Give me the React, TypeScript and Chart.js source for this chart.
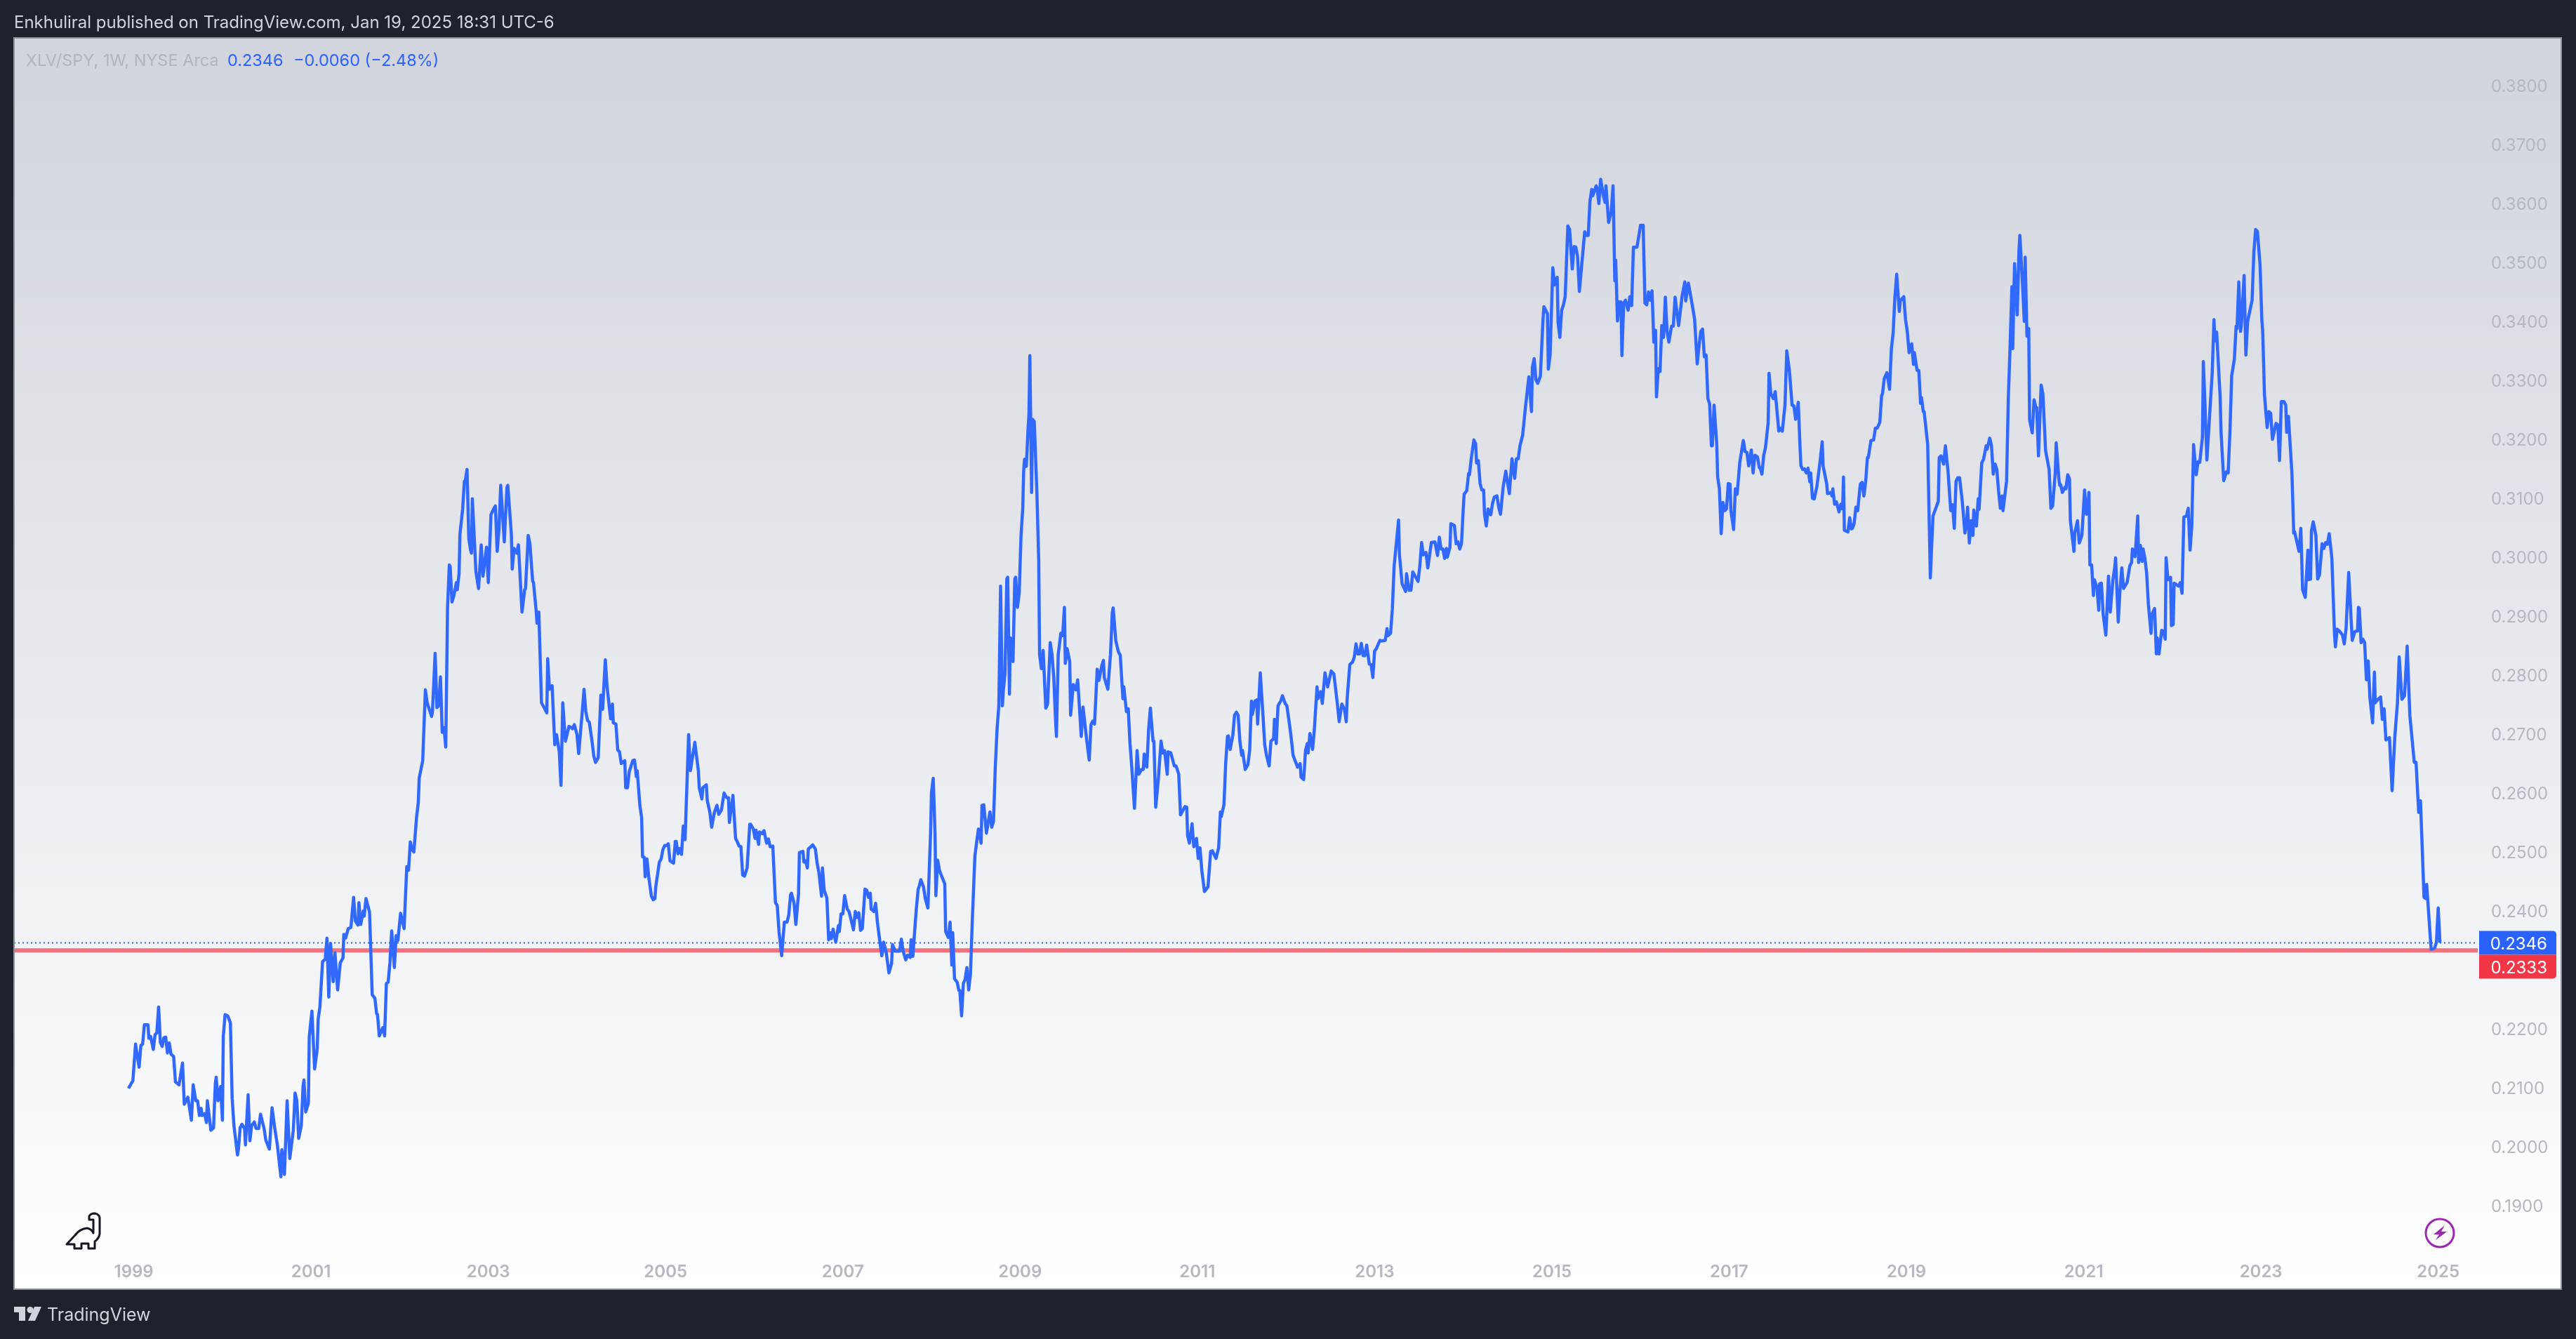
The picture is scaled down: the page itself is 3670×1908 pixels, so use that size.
import React, { useEffect, useRef } from "react";
import Chart from "chart.js/auto";

// XLV/SPY weekly ratio as [year, ratio] turning points.
const era1999to2005: number[][] = [
[1998.94,.2099],[1998.99,.2112],[1999.02,.2174],[1999.06,.2135],[1999.08,.2172],[1999.10,.2174],[1999.12,.2207],[1999.16,.2207],[1999.17,.2184],[1999.19,.2187],[1999.22,.2165],[1999.24,.2190],[1999.26,.2193],[1999.28,.2237],[1999.30,.2177],[1999.32,.2170],[1999.34,.2185],[1999.36,.2186],[1999.38,.2159],[1999.40,.2176],[1999.42,.2157],[1999.45,.2153],[1999.47,.2110],[1999.51,.2105],[1999.55,.2142],[1999.57,.2072],[1999.61,.2084],[1999.65,.2045],[1999.67,.2105],[1999.70,.2078],[1999.72,.2078],[1999.74,.2053],[1999.76,.2065],[1999.77,.2053],[1999.80,.2056],[1999.82,.2041],[1999.83,.2078],[1999.87,.2028],[1999.90,.2032],[1999.92,.2107],[1999.93,.2118],[1999.95,.2078],[1999.98,.2102],[2000.00,.2045],[2000.01,.2187],[2000.03,.2224],[2000.06,.2222],[2000.09,.2210],[2000.11,.2082],[2000.13,.2036],[2000.17,.1986],[2000.18,.1995],[2000.20,.2032],[2000.22,.2038],[2000.25,.2031],[2000.26,.2003],[2000.29,.2088],[2000.31,.2010],[2000.33,.2036],[2000.36,.2042],[2000.38,.2031],[2000.41,.2031],[2000.43,.2055],[2000.47,.2031],[2000.49,.2011],[2000.53,.1996],[2000.56,.2066],[2000.59,.2032],[2000.62,.2003],[2000.66,.1949],[2000.67,.1995],[2000.70,.1953],[2000.73,.2078],[2000.76,.1980],[2000.80,.2028],[2000.82,.2091],[2000.84,.2078],[2000.86,.2014],[2000.89,.2036],[2000.91,.2103],[2000.92,.2113],[2000.94,.2059],[2000.97,.2074],[2000.98,.2187],[2001.01,.2230],[2001.04,.2132],[2001.07,.2166],[2001.08,.2216],[2001.10,.2237],[2001.13,.2314],[2001.16,.2318],[2001.18,.2354],[2001.20,.2254],[2001.22,.2345],[2001.25,.2280],[2001.27,.2329],[2001.30,.2266],[2001.33,.2312],[2001.36,.2320],[2001.37,.2360],[2001.39,.2354],[2001.42,.2370],[2001.45,.2372],[2001.48,.2423],[2001.50,.2383],[2001.53,.2376],[2001.54,.2414],[2001.56,.2377],[2001.59,.2400],[2001.60,.2391],[2001.62,.2421],[2001.66,.2398],[2001.69,.2258],[2001.72,.2252],[2001.74,.2226],[2001.75,.2224],[2001.77,.2188],[2001.81,.2202],[2001.83,.2188],[2001.85,.2277],[2001.87,.2279],[2001.89,.2312],[2001.91,.2366],[2001.94,.2304],[2001.96,.2358],[2001.98,.2350],[2002.01,.2396],[2002.05,.2370],[2002.08,.2475],[2002.10,.2469],[2002.12,.2517],[2002.14,.2504],[2002.16,.2500],[2002.19,.2558],[2002.21,.2584],[2002.22,.2625],[2002.26,.2655],[2002.27,.2696],[2002.29,.2775],[2002.31,.2753],[2002.36,.2730],[2002.37,.2738],[2002.40,.2837],[2002.42,.2745],[2002.44,.2748],[2002.46,.2797],[2002.48,.2703],[2002.50,.2711],[2002.52,.2678],[2002.54,.2914],[2002.56,.2987],[2002.57,.2984],[2002.59,.2924],[2002.61,.2934],[2002.64,.2957],[2002.65,.2945],[2002.67,.2972],[2002.68,.3039],[2002.71,.3081],[2002.73,.3129],[2002.74,.3129],[2002.76,.3149],[2002.78,.3032],[2002.80,.3012],[2002.81,.3007],[2002.82,.3099],[2002.86,.2976],[2002.89,.2947],[2002.92,.3021],[2002.94,.2968],[2002.98,.3017],[2003.00,.2957],[2003.03,.3072],[2003.06,.3082],[2003.08,.3087],[2003.10,.3010],[2003.12,.3047],[2003.14,.3122],[2003.18,.3026],[2003.21,.3118],[2003.22,.3122],[2003.26,.3039],[2003.27,.2980],[2003.29,.3015],[2003.32,.3007],[2003.34,.3021],[2003.38,.2907],[2003.41,.2945],[2003.42,.2947],[2003.45,.3037],[2003.47,.3022],[2003.50,.2960],[2003.51,.2957],[2003.54,.2909],[2003.55,.2888],[2003.57,.2907],[2003.60,.2753],[2003.63,.2745],[2003.66,.2736],[2003.67,.2828],[2003.69,.2776],[2003.72,.2782],[2003.75,.2682],[2003.77,.2699],[2003.80,.2671],[2003.82,.2613],[2003.84,.2753],[2003.87,.2688],[2003.91,.2713],[2003.94,.2711],[2003.95,.2709],[2003.97,.2716],[2004.00,.2700],[2004.02,.2667],[2004.06,.2738],[2004.08,.2776],[2004.10,.2738],[2004.12,.2723],[2004.14,.2720],[2004.17,.2688],[2004.19,.2663],[2004.21,.2652],[2004.24,.2660],[2004.27,.2766],[2004.29,.2742],[2004.32,.2826],[2004.34,.2780],[2004.38,.2726],[2004.40,.2751],[2004.41,.2719],[2004.44,.2717],[2004.46,.2673],[2004.48,.2670],[2004.50,.2650],[2004.54,.2655],[2004.55,.2609],[2004.57,.2609],[2004.59,.2636],[2004.63,.2655],[2004.65,.2656],[2004.67,.2628],[2004.68,.2638],[2004.71,.2579],[2004.73,.2558],[2004.74,.2492],[2004.76,.2491],[2004.77,.2458],[2004.79,.2488],[2004.81,.2458],[2004.84,.2425],[2004.86,.2419],[2004.88,.2421],[2004.89,.2442],[2004.91,.2462],[2004.93,.2483],[2004.95,.2488],[2004.97,.2504],[2004.99,.2511],[2005.01,.2511],[2005.03,.2514],[2005.05,.2485],[2005.09,.2481],[2005.11,.2518],[2005.12,.2518],[2005.14,.2497],[2005.16,.2506],[2005.18,.2496],[2005.20,.2544],[2005.22,.2521],[2005.26,.2699],[2005.28,.2638],[2005.31,.2667],[2005.33,.2686],[2005.37,.2638],[2005.38,.2609],[2005.41,.2590],[2005.42,.2609],[2005.46,.2614],[2005.47,.2588],[2005.50,.2567],[2005.52,.2542],[2005.55,.2567],[2005.58,.2579],[2005.60,.2564],[2005.63,.2571],[2005.66,.2600],[2005.69,.2592],[2005.71,.2592],[2005.72,.2550],[2005.76,.2596],[2005.79,.2523],
];
const era2005to2012: number[][] = [
[2005.81,.2517],[2005.83,.2510],[2005.85,.2509],[2005.87,.2461],[2005.89,.2459],[2005.92,.2473],[2005.95,.2547],[2005.96,.2547],[2005.99,.2539],[2006.01,.2523],[2006.02,.2537],[2006.05,.2513],[2006.06,.2534],[2006.09,.2531],[2006.11,.2536],[2006.14,.2515],[2006.16,.2522],[2006.18,.2509],[2006.21,.2510],[2006.24,.2414],[2006.26,.2409],[2006.28,.2365],[2006.31,.2324],[2006.34,.2381],[2006.37,.2381],[2006.39,.2393],[2006.41,.2427],[2006.42,.2430],[2006.45,.2413],[2006.47,.2377],[2006.50,.2429],[2006.51,.2499],[2006.55,.2501],[2006.56,.2483],[2006.58,.2485],[2006.60,.2473],[2006.61,.2505],[2006.64,.2509],[2006.66,.2512],[2006.69,.2505],[2006.71,.2481],[2006.73,.2465],[2006.76,.2425],[2006.77,.2473],[2006.79,.2435],[2006.82,.2422],[2006.84,.2351],[2006.86,.2363],[2006.87,.2353],[2006.89,.2369],[2006.92,.2347],[2006.95,.2375],[2006.96,.2365],[2006.98,.2395],[2007.00,.2395],[2007.02,.2426],[2007.05,.2403],[2007.07,.2399],[2007.09,.2387],[2007.12,.2368],[2007.14,.2399],[2007.16,.2389],[2007.18,.2397],[2007.20,.2367],[2007.22,.2370],[2007.25,.2437],[2007.27,.2435],[2007.29,.2423],[2007.31,.2430],[2007.32,.2403],[2007.35,.2399],[2007.37,.2413],[2007.39,.2381],[2007.41,.2357],[2007.44,.2324],[2007.46,.2347],[2007.49,.2329],[2007.52,.2295],[2007.55,.2311],[2007.56,.2343],[2007.59,.2332],[2007.64,.2332],[2007.66,.2352],[2007.68,.2332],[2007.71,.2317],[2007.73,.2325],[2007.76,.2321],[2007.77,.2351],[2007.79,.2323],[2007.81,.2365],[2007.83,.2405],[2007.85,.2437],[2007.86,.2441],[2007.88,.2453],[2007.91,.2441],[2007.93,.2421],[2007.96,.2405],[2007.99,.2532],[2008.00,.2600],[2008.02,.2625],[2008.04,.2532],[2008.05,.2426],[2008.07,.2486],[2008.09,.2469],[2008.12,.2457],[2008.15,.2446],[2008.16,.2365],[2008.19,.2355],[2008.21,.2381],[2008.23,.2308],[2008.24,.2363],[2008.26,.2285],[2008.29,.2279],[2008.31,.2265],[2008.32,.2265],[2008.34,.2222],[2008.36,.2277],[2008.38,.2284],[2008.40,.2304],[2008.42,.2266],[2008.44,.2293],[2008.46,.2381],[2008.49,.2493],[2008.51,.2517],[2008.53,.2539],[2008.56,.2515],[2008.57,.2579],[2008.59,.2580],[2008.62,.2532],[2008.66,.2568],[2008.68,.2542],[2008.70,.2552],[2008.72,.2644],[2008.74,.2708],[2008.76,.2748],[2008.78,.2951],[2008.80,.2748],[2008.81,.2772],[2008.83,.2804],[2008.85,.2963],[2008.86,.2966],[2008.88,.2768],[2008.89,.2863],[2008.91,.2859],[2008.92,.2823],[2008.94,.2963],[2008.95,.2966],[2008.97,.2915],[2008.99,.2939],[2009.01,.3035],[2009.03,.3083],[2009.04,.3146],[2009.05,.3166],[2009.07,.3154],[2009.09,.3218],[2009.10,.3242],[2009.11,.3342],[2009.13,.3110],[2009.14,.3234],[2009.16,.3230],[2009.19,.3107],[2009.21,.2995],[2009.22,.2835],[2009.24,.2811],[2009.26,.2842],[2009.29,.2744],[2009.31,.2751],[2009.34,.2855],[2009.36,.2835],[2009.38,.2796],[2009.40,.2724],[2009.41,.2696],[2009.43,.2835],[2009.46,.2871],[2009.48,.2867],[2009.50,.2915],[2009.51,.2820],[2009.53,.2845],[2009.56,.2823],[2009.57,.2732],[2009.60,.2784],[2009.63,.2775],[2009.65,.2792],[2009.69,.2696],[2009.71,.2746],[2009.75,.2692],[2009.78,.2656],[2009.80,.2716],[2009.82,.2722],[2009.84,.2717],[2009.87,.2810],[2009.89,.2791],[2009.92,.2815],[2009.94,.2825],[2009.95,.2796],[2009.99,.2776],[2010.02,.2835],[2010.04,.2906],[2010.05,.2914],[2010.08,.2858],[2010.11,.2839],[2010.13,.2834],[2010.16,.2760],[2010.17,.2780],[2010.20,.2738],[2010.22,.2743],[2010.24,.2684],[2010.26,.2644],[2010.29,.2574],[2010.31,.2636],[2010.32,.2672],[2010.34,.2632],[2010.37,.2640],[2010.39,.2640],[2010.40,.2666],[2010.43,.2644],[2010.45,.2708],[2010.47,.2744],[2010.50,.2688],[2010.51,.2688],[2010.53,.2576],[2010.56,.2624],[2010.59,.2688],[2010.61,.2668],[2010.63,.2672],[2010.66,.2632],[2010.67,.2670],[2010.70,.2668],[2010.74,.2646],[2010.76,.2646],[2010.79,.2632],[2010.81,.2563],[2010.86,.2577],[2010.88,.2576],[2010.89,.2528],[2010.91,.2515],[2010.94,.2548],[2010.96,.2509],[2010.99,.2523],[2011.01,.2489],[2011.03,.2507],[2011.05,.2469],[2011.08,.2433],[2011.12,.2441],[2011.15,.2501],[2011.17,.2502],[2011.21,.2489],[2011.24,.2507],[2011.26,.2568],[2011.27,.2560],[2011.30,.2580],[2011.32,.2652],[2011.34,.2696],[2011.35,.2697],[2011.37,.2674],[2011.40,.2698],[2011.42,.2732],[2011.44,.2737],[2011.46,.2732],[2011.48,.2688],[2011.50,.2664],[2011.51,.2672],[2011.54,.2640],[2011.57,.2648],[2011.59,.2672],[2011.61,.2756],[2011.62,.2733],[2011.65,.2756],[2011.67,.2758],[2011.68,.2717],[2011.71,.2804],[2011.74,.2732],[2011.76,.2682],[2011.78,.2664],[2011.81,.2646],[2011.83,.2688],[2011.86,.2692],[2011.87,.2725],[2011.89,.2684],[2011.91,.2748],[2011.94,.2756],[2011.96,.2765],[2011.99,.2752],[2012.01,.2748],[2012.04,.2716],[2012.06,.2692],[2012.08,.2664],[2012.11,.2652],[2012.13,.2644],[2012.16,.2650],[2012.17,.2627],[2012.20,.2623],[2012.22,.2672],[2012.24,.2684],[2012.25,.2668],[2012.27,.2701],[2012.30,.2674],[2012.32,.2708],[2012.35,.2780],[2012.36,.2760],[2012.39,.2772],[2012.41,.2752],[2012.44,.2804],[2012.47,.2780],[2012.51,.2807],
];
const era2012to2018: number[][] = [
[2012.54,.2802],[2012.58,.2751],[2012.60,.2721],[2012.63,.2751],[2012.66,.2742],[2012.68,.2721],[2012.69,.2760],[2012.72,.2818],[2012.75,.2822],[2012.77,.2830],[2012.79,.2853],[2012.81,.2836],[2012.83,.2836],[2012.85,.2854],[2012.87,.2833],[2012.89,.2833],[2012.91,.2851],[2012.94,.2819],[2012.96,.2818],[2012.98,.2796],[2013.00,.2841],[2013.02,.2845],[2013.06,.2859],[2013.08,.2858],[2013.12,.2859],[2013.14,.2879],[2013.15,.2867],[2013.18,.2871],[2013.20,.2912],[2013.22,.2985],[2013.27,.3063],[2013.28,.3004],[2013.31,.2955],[2013.35,.2942],[2013.36,.2972],[2013.39,.2944],[2013.41,.2944],[2013.43,.2975],[2013.45,.2970],[2013.49,.2959],[2013.51,.2985],[2013.53,.3025],[2013.55,.3004],[2013.58,.3008],[2013.60,.2982],[2013.64,.3025],[2013.68,.3026],[2013.71,.3003],[2013.73,.3034],[2013.75,.3014],[2013.77,.3014],[2013.79,.2998],[2013.81,.3015],[2013.82,.3000],[2013.85,.3017],[2013.86,.3057],[2013.90,.3054],[2013.92,.3023],[2013.94,.3026],[2013.96,.3014],[2013.98,.3023],[2014.00,.3082],[2014.01,.3107],[2014.04,.3113],[2014.06,.3142],[2014.07,.3140],[2014.09,.3167],[2014.12,.3199],[2014.14,.3192],[2014.15,.3160],[2014.17,.3164],[2014.19,.3125],[2014.21,.3114],[2014.23,.3114],[2014.24,.3073],[2014.26,.3053],[2014.28,.3082],[2014.31,.3072],[2014.33,.3091],[2014.35,.3102],[2014.38,.3104],[2014.40,.3085],[2014.42,.3073],[2014.45,.3119],[2014.48,.3146],[2014.52,.3108],[2014.55,.3167],[2014.58,.3134],[2014.60,.3167],[2014.62,.3167],[2014.64,.3189],[2014.67,.3207],[2014.70,.3252],[2014.74,.3306],[2014.77,.3247],[2014.78,.3322],[2014.80,.3337],[2014.82,.3301],[2014.84,.3295],[2014.87,.3307],[2014.90,.3404],[2014.91,.3425],[2014.95,.3413],[2014.96,.3319],[2014.98,.3343],[2015.01,.3491],[2015.03,.3462],[2015.06,.3475],[2015.07,.3398],[2015.09,.3373],[2015.11,.3419],[2015.13,.3428],[2015.15,.3442],[2015.18,.3562],[2015.20,.3556],[2015.23,.3489],[2015.25,.3527],[2015.27,.3526],[2015.29,.3510],[2015.31,.3451],[2015.37,.3552],[2015.39,.3546],[2015.41,.3546],[2015.43,.3605],[2015.45,.3624],[2015.46,.3613],[2015.50,.3630],[2015.51,.3626],[2015.53,.3600],[2015.55,.3641],[2015.58,.3614],[2015.60,.3602],[2015.61,.3630],[2015.64,.3568],[2015.67,.3586],[2015.69,.3630],[2015.71,.3469],[2015.72,.3504],[2015.74,.3401],[2015.76,.3433],[2015.78,.3433],[2015.79,.3342],[2015.81,.3431],[2015.83,.3436],[2015.86,.3419],[2015.88,.3442],[2015.90,.3427],[2015.92,.3526],[2015.96,.3526],[2015.98,.3544],[2016.00,.3563],[2016.03,.3563],[2016.05,.3431],[2016.07,.3428],[2016.09,.3450],[2016.11,.3436],[2016.13,.3452],[2016.15,.3365],[2016.17,.3385],[2016.18,.3272],[2016.20,.3320],[2016.22,.3315],[2016.24,.3393],[2016.26,.3373],[2016.28,.3441],[2016.30,.3383],[2016.32,.3365],[2016.35,.3392],[2016.37,.3392],[2016.39,.3441],[2016.43,.3393],[2016.47,.3444],[2016.50,.3467],[2016.51,.3435],[2016.54,.3465],[2016.58,.3431],[2016.61,.3404],[2016.64,.3328],[2016.66,.3359],[2016.68,.3383],[2016.70,.3387],[2016.72,.3340],[2016.74,.3343],[2016.76,.3269],[2016.78,.3260],[2016.80,.3189],[2016.81,.3189],[2016.83,.3258],[2016.86,.3192],[2016.87,.3137],[2016.89,.3116],[2016.91,.3040],[2016.93,.3093],[2016.95,.3079],[2016.97,.3082],[2016.99,.3125],[2017.01,.3124],[2017.02,.3079],[2017.05,.3047],[2017.07,.3116],[2017.09,.3107],[2017.12,.3161],[2017.16,.3198],[2017.18,.3179],[2017.20,.3178],[2017.22,.3155],[2017.25,.3182],[2017.27,.3143],[2017.29,.3173],[2017.32,.3170],[2017.34,.3152],[2017.35,.3152],[2017.37,.3141],[2017.39,.3173],[2017.41,.3186],[2017.44,.3228],[2017.45,.3312],[2017.47,.3277],[2017.50,.3269],[2017.52,.3281],[2017.56,.3214],[2017.58,.3219],[2017.60,.3214],[2017.63,.3258],[2017.65,.3350],[2017.68,.3316],[2017.71,.3258],[2017.73,.3257],[2017.75,.3234],[2017.78,.3263],[2017.80,.3186],[2017.81,.3155],[2017.83,.3149],[2017.85,.3150],[2017.87,.3143],[2017.89,.3151],[2017.91,.3128],[2017.92,.3143],[2017.94,.3100],[2017.96,.3099],[2017.99,.3120],[2018.02,.3155],[2018.05,.3196],[2018.06,.3155],[2018.10,.3125],[2018.11,.3108],[2018.15,.3110],[2018.16,.3104],[2018.17,.3116],[2018.19,.3090],[2018.21,.3094],[2018.24,.3077],[2018.26,.3090],[2018.28,.3082],[2018.29,.3136],[2018.30,.3046],[2018.34,.3043],[2018.36,.3067],[2018.38,.3048],[2018.39,.3049],[2018.41,.3057],[2018.43,.3085],[2018.45,.3079],[2018.48,.3124],[2018.50,.3127],[2018.52,.3104],[2018.54,.3128],[2018.56,.3169],[2018.57,.3169],[2018.60,.3198],[2018.63,.3199],[2018.65,.3219],[2018.67,.3219],[2018.70,.3229],[2018.72,.3274],[2018.73,.3277],[2018.75,.3303],[2018.78,.3313],[2018.81,.3285],[2018.83,.3353],[2018.85,.3380],[2018.87,.3441],
];
const era2018to2025: number[][] = [
[2018.89,.3480],[2018.92,.3417],[2018.93,.3435],[2018.97,.3442],[2018.99,.3403],[2019.01,.3383],[2019.03,.3347],[2019.06,.3362],[2019.08,.3327],[2019.09,.3347],[2019.12,.3317],[2019.14,.3317],[2019.16,.3261],[2019.17,.3271],[2019.19,.3247],[2019.20,.3247],[2019.24,.3191],[2019.27,.2965],[2019.29,.3037],[2019.30,.3070],[2019.36,.3095],[2019.37,.3169],[2019.39,.3172],[2019.42,.3158],[2019.44,.3189],[2019.47,.3145],[2019.50,.3079],[2019.52,.3089],[2019.54,.3049],[2019.56,.3129],[2019.58,.3135],[2019.60,.3135],[2019.63,.3095],[2019.66,.3041],[2019.68,.3062],[2019.69,.3085],[2019.71,.3024],[2019.73,.3062],[2019.75,.3037],[2019.76,.3080],[2019.79,.3053],[2019.81,.3099],[2019.82,.3081],[2019.85,.3160],[2019.87,.3166],[2019.90,.3189],[2019.91,.3183],[2019.94,.3202],[2019.96,.3189],[2019.98,.3141],[2020.00,.3158],[2020.02,.3149],[2020.04,.3112],[2020.06,.3083],[2020.08,.3104],[2020.09,.3079],[2020.13,.3129],[2020.15,.3271],[2020.17,.3358],[2020.19,.3459],[2020.20,.3354],[2020.22,.3498],[2020.25,.3411],[2020.27,.3521],[2020.28,.3546],[2020.31,.3463],[2020.33,.3400],[2020.34,.3509],[2020.36,.3375],[2020.38,.3388],[2020.39,.3233],[2020.42,.3211],[2020.44,.3267],[2020.46,.3254],[2020.47,.3254],[2020.49,.3172],[2020.52,.3292],[2020.54,.3277],[2020.57,.3181],[2020.61,.3149],[2020.63,.3083],[2020.65,.3087],[2020.68,.3145],[2020.69,.3194],[2020.72,.3133],[2020.73,.3122],[2020.74,.3123],[2020.76,.3110],[2020.79,.3119],[2020.80,.3116],[2020.82,.3140],[2020.84,.3133],[2020.85,.3062],[2020.89,.3010],[2020.90,.3041],[2020.93,.3062],[2020.95,.3024],[2020.98,.3037],[2021.01,.3114],[2021.03,.3073],[2021.04,.3075],[2021.06,.3110],[2021.07,.2987],[2021.09,.2987],[2021.11,.2935],[2021.12,.2962],[2021.15,.2949],[2021.17,.2910],[2021.18,.2955],[2021.20,.2956],[2021.22,.2903],[2021.25,.2868],[2021.28,.2968],[2021.30,.2907],[2021.33,.2962],[2021.35,.2982],[2021.36,.2999],[2021.39,.2890],[2021.41,.2945],[2021.43,.2982],[2021.45,.2947],[2021.49,.2957],[2021.52,.2985],[2021.54,.2991],[2021.55,.3014],[2021.58,.3001],[2021.61,.3070],[2021.62,.2991],[2021.64,.3020],[2021.66,.2993],[2021.67,.3014],[2021.69,.2999],[2021.71,.2974],[2021.73,.2920],[2021.76,.2871],[2021.77,.2903],[2021.80,.2913],[2021.82,.2836],[2021.83,.2863],[2021.85,.2836],[2021.88,.2876],[2021.90,.2874],[2021.92,.2861],[2021.93,.2999],[2021.95,.2962],[2021.98,.2966],[2021.99,.2884],[2022.01,.2886],[2022.02,.2956],[2022.07,.2951],[2022.09,.2957],[2022.11,.2939],[2022.12,.3003],[2022.13,.3068],[2022.16,.3070],[2022.18,.3083],[2022.20,.3012],[2022.22,.3053],[2022.24,.3191],[2022.27,.3140],[2022.29,.3162],[2022.31,.3161],[2022.34,.3204],[2022.35,.3332],[2022.37,.3254],[2022.39,.3165],[2022.45,.3312],[2022.47,.3403],[2022.48,.3367],[2022.50,.3382],[2022.54,.3271],[2022.55,.3212],[2022.58,.3130],[2022.61,.3145],[2022.63,.3143],[2022.65,.3212],[2022.67,.3308],[2022.70,.3336],[2022.72,.3392],[2022.73,.3388],[2022.75,.3467],[2022.77,.3383],[2022.78,.3396],[2022.81,.3478],[2022.83,.3343],[2022.85,.3400],[2022.90,.3436],[2022.92,.3517],[2022.94,.3556],[2022.96,.3553],[2022.99,.3496],[2023.01,.3403],[2023.02,.3383],[2023.04,.3275],[2023.07,.3220],[2023.09,.3247],[2023.11,.3244],[2023.13,.3200],[2023.17,.3227],[2023.19,.3225],[2023.21,.3164],[2023.23,.3264],[2023.26,.3264],[2023.28,.3258],[2023.29,.3212],[2023.31,.3239],[2023.35,.3141],[2023.37,.3041],[2023.38,.3043],[2023.43,.3010],[2023.45,.3049],[2023.47,.2945],[2023.50,.2932],[2023.53,.3012],[2023.54,.2962],[2023.56,.2963],[2023.57,.3045],[2023.59,.3060],[2023.62,.3037],[2023.64,.2963],[2023.66,.2970],[2023.69,.3023],[2023.71,.3015],[2023.73,.3025],[2023.75,.3022],[2023.77,.3040],[2023.80,.2999],[2023.83,.2870],[2023.84,.2848],[2023.86,.2878],[2023.89,.2874],[2023.92,.2868],[2023.94,.2853],[2023.96,.2878],[2023.99,.2974],[2024.00,.2945],[2024.03,.2859],[2024.06,.2874],[2024.09,.2875],[2024.10,.2915],[2024.11,.2913],[2024.13,.2855],[2024.15,.2861],[2024.17,.2855],[2024.19,.2792],[2024.21,.2824],[2024.23,.2761],[2024.26,.2719],[2024.28,.2805],[2024.29,.2753],[2024.32,.2759],[2024.35,.2763],[2024.37,.2725],[2024.39,.2743],[2024.41,.2690],[2024.45,.2694],[2024.48,.2604],[2024.51,.2694],[2024.54,.2753],[2024.56,.2831],[2024.59,.2759],[2024.62,.2765],[2024.65,.2849],[2024.68,.2732],[2024.73,.2652],[2024.75,.2652],[2024.78,.2567],[2024.80,.2587],[2024.84,.2423],[2024.86,.2421],[2024.87,.2445],[2024.92,.2335],[2024.96,.2337],[2024.98,.2347],[2025.00,.2405],[2025.02,.2346],
];

const yearTicks = [1999, 2001, 2003, 2005, 2007, 2009, 2011, 2013, 2015, 2017, 2019, 2021, 2023, 2025];
const ratioTicks = [0.19, 0.2, 0.21, 0.22, 0.23, 0.24, 0.25, 0.26, 0.27, 0.28, 0.29, 0.3, 0.31, 0.32, 0.33, 0.34, 0.35, 0.36, 0.37, 0.38];
const lastPrice = 0.2346;
const supportLevel = 0.2333;
const xRange = [1997.649, 2025.446];
const yRange = [0.18143, 0.3881];

const WIDTH = 3670;
const HEIGHT = 1908;
const FONT = "Inter, 'Liberation Sans', sans-serif";
const DARK = "#1e222d";
const BLUE = "#2962ff";
const RED = "#f23645";

const toPoints = (rows: number[][]) => rows.map(([x, y]) => ({ x, y }));

const framePlugin = {
  id: "frame",
  beforeDraw(chart: any) {
    const { ctx } = chart;
    const gradient = ctx.createLinearGradient(0, 54, 0, 1837);
    gradient.addColorStop(0, "#d1d4dc");
    gradient.addColorStop(1, "#ffffff");
    ctx.save();
    ctx.fillStyle = DARK;
    ctx.fillRect(0, 0, WIDTH, HEIGHT);
    ctx.fillStyle = gradient;
    ctx.fillRect(20, 54, 3629, 1783);
    ctx.restore();
  },
  afterDraw(chart: any) {
    const { ctx, scales } = chart;
    ctx.save();
    // panel outline
    ctx.strokeStyle = "#8f929b";
    ctx.lineWidth = 2;
    ctx.strokeRect(20, 54, 3629, 1783);

    // price labels on the axis
    const blueMid = scales.y.getPixelForValue(lastPrice);
    const boxH = 34;
    const boxes = [
      { text: lastPrice.toFixed(4), fill: BLUE, mid: blueMid, radius: [0, 5, 0, 0] },
      { text: supportLevel.toFixed(4), fill: RED, mid: blueMid + boxH, radius: [0, 0, 5, 0] },
    ];
    ctx.font = `24px ${FONT}`;
    ctx.textBaseline = "middle";
    ctx.textAlign = "right";
    for (const box of boxes) {
      ctx.fillStyle = box.fill;
      ctx.beginPath();
      ctx.roundRect(3532, box.mid - boxH / 2, 110, boxH, box.radius);
      ctx.fill();
      ctx.fillStyle = "#ffffff";
      ctx.fillText(box.text, 3629, box.mid + 2);
    }

    // dinosaur badge
    ctx.strokeStyle = "#131722";
    ctx.lineWidth = 3;
    ctx.lineJoin = "round";
    ctx.stroke(new Path2D("M95 1773 L107 1760 Q114 1751 124 1750 Q130 1751 133 1757 L133 1738 L127 1738 L127 1733 Q129 1729 135 1729 Q141 1730 142 1735 L142 1758 Q141 1765 135 1769 L135 1779 L126 1779 L126 1772 L116 1772 L116 1779 L106 1779 L106 1773 Z"));

    // lightning badge
    ctx.strokeStyle = "#9c27b0";
    ctx.fillStyle = "#9c27b0";
    ctx.lineWidth = 3;
    ctx.beginPath();
    ctx.arc(3476, 1757, 20, 0, Math.PI * 2);
    ctx.stroke();
    ctx.fill(new Path2D("M3483 1746 L3467 1759 L3475 1759 L3470 1767 L3486 1755 L3478 1755 Z"));

    // TradingView mark
    ctx.fillStyle = "#d1d4dc";
    ctx.fill(new Path2D("M20 1862 H36 V1882 H27 V1870 H20 Z"));
    ctx.beginPath();
    ctx.arc(43, 1866.5, 4.5, 0, Math.PI * 2);
    ctx.fill();
    ctx.fill(new Path2D("M49 1862 H59 L50 1882 H40 Z"));
    ctx.restore();
  },
};

const textStyle: React.CSSProperties = {
  position: "absolute",
  fontFamily: FONT,
  whiteSpace: "pre",
  lineHeight: 1,
};

export default function App() {
  const canvasRef = useRef<HTMLCanvasElement | null>(null);

  useEffect(() => {
    const canvas = canvasRef.current;
    if (!canvas) return;
    const series = [...era1999to2005, ...era2005to2012, ...era2012to2018, ...era2018to2025];
    const chart = new Chart(canvas, {
      type: "line",
      data: {
        datasets: [
          {
            label: "Support",
            data: toPoints([[xRange[0], supportLevel], [xRange[1], supportLevel]]),
            borderColor: "#f1727f",
            borderWidth: 6,
            pointRadius: 0,
            order: 3,
          },
          {
            label: "Last price",
            data: toPoints([[xRange[0], lastPrice], [xRange[1], lastPrice]]),
            borderColor: BLUE,
            borderWidth: 2,
            borderDash: [2, 4],
            pointRadius: 0,
            order: 2,
          },
          {
            label: "XLV/SPY",
            data: toPoints(series),
            borderColor: "#3169ff",
            borderWidth: 4.5,
            borderJoinStyle: "round",
            pointRadius: 0,
            tension: 0,
            order: 1,
          },
        ],
      },
      options: {
        responsive: false,
        animation: false,
        devicePixelRatio: 1,
        layout: { padding: { left: 20, top: 54, right: 21, bottom: 71 } },
        plugins: { legend: { display: false }, tooltip: { enabled: false }, title: { display: false } },
        scales: {
          x: {
            type: "linear",
            min: xRange[0],
            max: xRange[1],
            grid: { display: false, drawTicks: false },
            border: { display: false },
            afterFit: (scale: any) => { scale.height = 47; },
            afterBuildTicks: (scale: any) => { scale.ticks = yearTicks.map((value) => ({ value })); },
            ticks: {
              autoSkip: false,
              maxRotation: 0,
              padding: 8,
              color: "#b5b8c2",
              font: { family: FONT, size: 24, weight: "600" },
              callback: (value: any) => String(value),
            },
          },
          y: {
            type: "linear",
            position: "right",
            min: yRange[0],
            max: yRange[1],
            grid: { display: false, drawTicks: false },
            border: { display: false },
            afterFit: (scale: any) => { scale.width = 119; },
            afterBuildTicks: (scale: any) => { scale.ticks = ratioTicks.map((value) => ({ value })); },
            ticks: {
              autoSkip: false,
              padding: 19,
              labelOffset: 2,
              color: "#b5b8c2",
              font: { family: FONT, size: 24 },
              callback: (value: any) => Number(value).toFixed(4),
            },
          },
        },
      },
      plugins: [framePlugin],
    } as any);
    return () => chart.destroy();
  }, []);

  return (
    <div style={{ position: "absolute", left: 0, top: 0, width: WIDTH, height: HEIGHT, overflow: "hidden", background: DARK }}>
      <canvas ref={canvasRef} width={WIDTH} height={HEIGHT} style={{ display: "block", width: WIDTH, height: HEIGHT }} />
      <span style={{ ...textStyle, left: 20, top: 20, fontSize: 24, color: "#d1d4dc" }}>
        Enkhuliral published on TradingView.com, Jan 19, 2025 18:31 UTC-6
      </span>
      <span style={{ ...textStyle, left: 37, top: 74, fontSize: 23.5, color: "#b2b5be" }}>XLV/SPY, 1W, NYSE Arca</span>
      <span style={{ ...textStyle, left: 324, top: 74, fontSize: 23.5, color: BLUE }}>0.2346</span>
      <span style={{ ...textStyle, left: 418, top: 74, fontSize: 23.5, color: BLUE }}>−0.0060 (−2.48%)</span>
      <span style={{ ...textStyle, left: 67, top: 1861, fontSize: 25, color: "#d1d4dc" }}>TradingView</span>
    </div>
  );
}
